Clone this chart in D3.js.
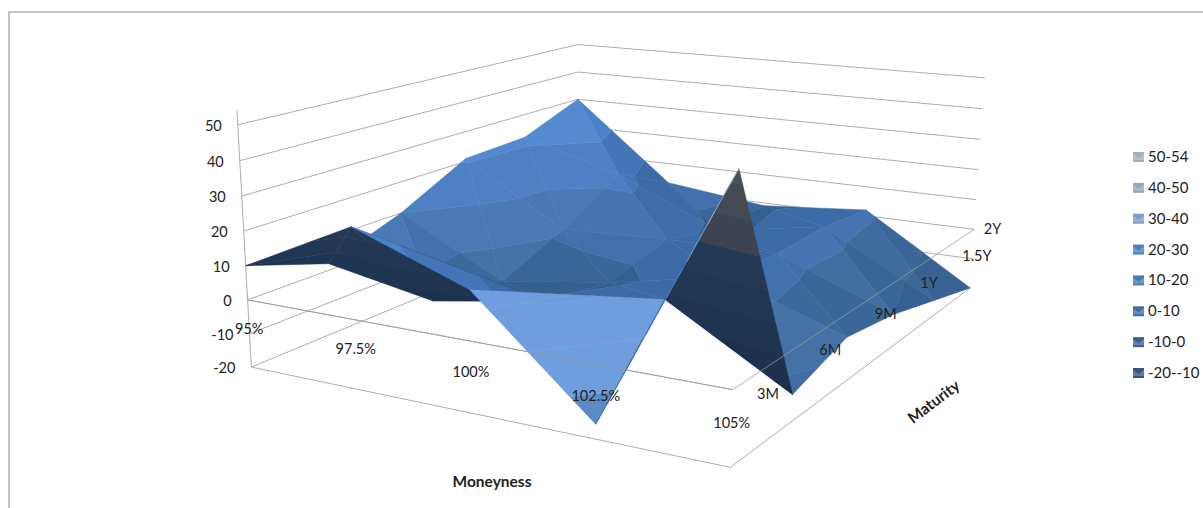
<!DOCTYPE html>
<html>
<head>
<meta charset="utf-8">
<script src="https://cdn.jsdelivr.net/npm/d3@7"></script>
<style>
html,body{margin:0;padding:0;background:#fff;}
svg text{font-family:Lato,"Open Sans",sans-serif;fill:#222;}
</style>
</head>
<body>
<svg id="chart" width="1203" height="508"></svg>
<script>
// Volatility-style surface by moneyness and maturity
const moneyness = ["95%", "97.5%", "100%", "102.5%", "105%"];
const maturity = ["3M", "6M", "9M", "1Y", "1.5Y", "2Y"];
const valueTicks = [-20, -10, 0, 10, 20, 30, 40, 50];
const row3M  = [10, 26, 14, -16, 54];
const row6M  = [2, -4, 1.5, 7.7, -12.5];
const row9M  = [10, -7, -2, 5, -7];
const row1Y  = [21, 1.5, 3, 3.5, -10];
const row15Y = [22, 13, -2, 4, -15];
const row2Y  = [30, 3, -1, 2, -20];
const surface = [row3M, row6M, row9M, row1Y, row15Y, row2Y];
// Grid cells (moneyness index, maturity index) whose crease runs the other way
const flippedCells = ["1,0", "2,0"];
const legendLabels = ["50-54", "40-50", "30-40", "20-30", "10-20", "0-10", "-10-0", "-20--10"];
const legendColors = ["#a6afbd", "#98a7bd", "#7f9cc2", "#4a82c4", "#4779b5", "#3f6ea6", "#386293", "#35557f"];
const bandEdges = [-20, -10, 0, 10, 20, 30, 40, 50, 60];
const bandTop = ["#325a8a", "#355f90", "#3c6aa6", "#4375b8", "#4b82c9", "#7f9cc2", "#98a7bd", "#a6afbd"];
const bandUnder = ["#1b2e4a", "#1d314e", "#1f3451", "#213653", "#233855", "#3d4350", "#444953", "#4a4e58"];
const litTone = "#6e9ede";

const svg = d3.select("#chart");
const W = 1203, H = 508;

// Box coordinates: unit cube spanned by the two category axes and the value axis
const xBox = d3.scalePoint(moneyness, [0, 1]);
const yBox = d3.scalePoint(maturity, [0, 1]);
const zBox = d3.scaleLinear([-20, 50], [0, 1]);

// Camera fitted to where the eight box corners fall on the page
const cornerFit = [
  [0, 0, 1, 238, 125], [0, 0, 0, 251, 366],
  [1, 0, 1, 738, 186], [1, 0, 0, 731, 468],
  [1, 1, 1, 985, 78],  [1, 1, 0, 970, 287],
  [0, 1, 1, 578, 44],  [0, 1, 0, 578, 233]
];
function solveCamera(pts) {
  const A = [], b = [];
  pts.forEach(([x, y, z, u, v]) => {
    A.push([x, y, z, 1, 0, 0, 0, 0, -u * x, -u * y, -u * z]); b.push(u);
    A.push([0, 0, 0, 0, x, y, z, 1, -v * x, -v * y, -v * z]); b.push(v);
  });
  const n = 11;
  const M = d3.range(n).map(i => d3.range(n + 1).map(j =>
    j < n ? d3.sum(A, r => r[i] * r[j]) : d3.sum(A, (r, k) => r[i] * b[k])));
  for (let c = 0; c < n; c++) {
    let p = c;
    for (let r = c + 1; r < n; r++) if (Math.abs(M[r][c]) > Math.abs(M[p][c])) p = r;
    [M[c], M[p]] = [M[p], M[c]];
    for (let r = 0; r < n; r++) {
      if (r === c) continue;
      const f = M[r][c] / M[c][c];
      for (let k = c; k <= n; k++) M[r][k] -= f * M[c][k];
    }
  }
  return d3.range(n).map(i => M[i][n] / M[i][i]);
}
const P = solveCamera(cornerFit);
const depth = (x, y, z) => P[8] * x + P[9] * y + P[10] * z + 1;
function project(x, y, z) {
  const w = depth(x, y, z);
  return [(P[0] * x + P[1] * y + P[2] * z + P[3]) / w,
          (P[4] * x + P[5] * y + P[6] * z + P[7]) / w];
}
const at = (x, y, v) => project(x, y, zBox(v));
const lineGen = d3.line();

// Chart frame
svg.append("path")
  .attr("d", lineGen([[9, H], [9, 12], [W, 12]]))
  .attr("fill", "none").attr("stroke", "#b0b0b0").attr("stroke-width", 1.5);

// Wall gridlines and value axis
const grid = svg.append("g").attr("fill", "none").attr("stroke", "#adadad").attr("stroke-width", 1);
valueTicks.forEach(v => {
  grid.append("path").attr("d", lineGen([at(0, 0, v), at(0, 1, v), at(1, 1, v)]));
});
grid.append("path").attr("d", lineGen([at(0, 0, 54), at(0, 0, -20)]));
grid.append("path").attr("d", lineGen([at(0, 0, 0), at(1, 0, 0)]));
grid.append("path").attr("d", lineGen([at(0, 0, -20), at(1, 0, -20), at(1, 1, -20)]));

// Cut a triangle to the slab between two values
function clipBand(tri, lo, hi) {
  const cut = (poly, inside, level) => {
    const out = [];
    poly.forEach((a, i) => {
      const b = poly[(i + 1) % poly.length];
      const ia = inside(a[2]), ib = inside(b[2]);
      if (ia) out.push(a);
      if (ia !== ib) {
        const t = (level - a[2]) / (b[2] - a[2]);
        out.push([a[0] + t * (b[0] - a[0]), a[1] + t * (b[1] - a[1]), level]);
      }
    });
    return out;
  };
  let poly = cut(tri, z => z >= lo, lo);
  if (poly.length) poly = cut(poly, z => z <= hi, hi);
  return poly;
}

// Split every grid cell into two triangles along its crease
const triangles = [];
surface.forEach((row, j) => {
  if (j === surface.length - 1) return;
  row.forEach((v, i) => {
    if (i === row.length - 1) return;
    const vert = (a, b) => [xBox(moneyness[a]), yBox(maturity[b]), surface[b][a]];
    if (flippedCells.includes(`${i},${j}`)) {
      triangles.push([vert(i, j), vert(i + 1, j), vert(i + 1, j + 1)]);
      triangles.push([vert(i, j), vert(i + 1, j + 1), vert(i, j + 1)]);
    } else {
      triangles.push([vert(i, j), vert(i + 1, j), vert(i, j + 1)]);
      triangles.push([vert(i + 1, j), vert(i + 1, j + 1), vert(i, j + 1)]);
    }
  });
});

// Far triangles first so nearer ones paint over them
const meanDepth = t => d3.mean(t, p => depth(p[0], p[1], zBox(p[2])));
const nearSign = Math.sign(depth(1, 0, 0) - depth(0, 1, 0));
triangles.sort((a, b) => nearSign * (meanDepth(a) - meanDepth(b)));

const light = [0.55, -0.55, 0.63];
function shadeOf(t) {
  const toBox = p => [p[0] * 1.25, p[1], zBox(p[2]) * 0.62];
  const [A, B, C] = t.map(toBox);
  const u = [B[0] - A[0], B[1] - A[1], B[2] - A[2]];
  const w = [C[0] - A[0], C[1] - A[1], C[2] - A[2]];
  let n = [u[1] * w[2] - u[2] * w[1], u[2] * w[0] - u[0] * w[2], u[0] * w[1] - u[1] * w[0]];
  const len = Math.hypot(...n);
  n = n.map(d => d / len);
  if (n[2] < 0) n = n.map(d => -d);
  return n[0] * light[0] + n[1] * light[1] + n[2] * light[2];
}

function signedArea(t) {
  const [a, b, c] = t.map(p => at(p[0], p[1], p[2]));
  return (b[0] - a[0]) * (c[1] - a[1]) - (c[0] - a[0]) * (b[1] - a[1]);
}

// Band colour, lifted gently with the light and strongly on faces turned right at it
function toneFor(base, s, k) {
  const gentle = Math.max(0, Math.min(1, (s - 0.62) / 0.23)) * 0.28;
  const strong = Math.max(0, Math.min(1, (s - 0.965) / 0.02)) * (k === 0 ? 0.72 : 1);
  return d3.interpolateRgb(base, litTone)(Math.max(gentle, strong));
}

const faces = [];
triangles.forEach(t => {
  const under = signedArea(t) > 0;
  const s = shadeOf(t);
  bandTop.forEach((col, k) => {
    const poly = clipBand(t, bandEdges[k], bandEdges[k + 1]);
    if (poly.length < 3) return;
    faces.push({ pts: poly.map(p => at(p[0], p[1], p[2])), fill: under ? bandUnder[k] : toneFor(col, s, k) });
  });
});

svg.append("g").selectAll("path").data(faces).join("path")
  .attr("d", d => lineGen(d.pts) + "Z")
  .attr("fill", d => d.fill)
  .attr("stroke", d => d.fill)
  .attr("stroke-width", 0.5);

// Zero-level lines pass in front of the surface
const over = svg.append("g").attr("fill", "none").attr("stroke", "#9a9a9a").attr("stroke-opacity", 0.75);
over.append("path").attr("d", lineGen([at(0, 0, 0), at(1, 0, 0), at(1, 1, 0)]));

// Axis labels
const labels = svg.append("g").attr("font-size", 14.5);
labels.selectAll(".val").data(valueTicks).join("text")
  .attr("class", "val")
  .attr("x", v => at(0, 0, v)[0] - 16)
  .attr("y", v => at(0, 0, v)[1] + 6)
  .attr("text-anchor", "end")
  .text(d => d);
labels.selectAll(".mon").data(moneyness).join("text")
  .attr("class", "mon")
  .attr("x", m => at(xBox(m), 0, -8.5)[0])
  .attr("y", m => at(xBox(m), 0, -8.5)[1] + 5)
  .attr("text-anchor", "middle")
  .text(d => d);
const maturityNudge = [[-11, -4], [-8, -6], [-4, -6], [-6, -5], [2, -3], [-18, -5]];
labels.selectAll(".mat").data(maturity).join("text")
  .attr("class", "mat")
  .attr("x", (m, i) => at(1.08, yBox(m), 0)[0] + maturityNudge[i][0])
  .attr("y", (m, i) => at(1.08, yBox(m), 0)[1] + 5 + maturityNudge[i][1])
  .attr("text-anchor", "middle")
  .text(d => d);

svg.append("text").attr("x", 492).attr("y", 487).attr("text-anchor", "middle")
  .attr("font-size", 15.5).attr("font-weight", 700).text("Moneyness");
svg.append("text").attr("transform", "translate(937,406) rotate(-37)").attr("text-anchor", "middle")
  .attr("font-size", 15.5).attr("font-weight", 700).text("Maturity");

// Legend
const legendY = d3.scalePoint(legendLabels, [157, 373]);
const legend = svg.append("g").selectAll("g").data(legendLabels).join("g")
  .attr("transform", d => `translate(1133,${legendY(d)})`);
legend.append("rect").attr("x", 0).attr("y", -5).attr("width", 11).attr("height", 10)
  .attr("fill", (d, i) => legendColors[i]);
legend.append("path").attr("d", "M0,-3L5.5,1L11,-3L11,3L0,3Z").attr("fill", "#fff").attr("fill-opacity", 0.22);
legend.append("text").attr("x", 15).attr("y", 5).attr("font-size", 15).text(d => d);
</script>
</body>
</html>
